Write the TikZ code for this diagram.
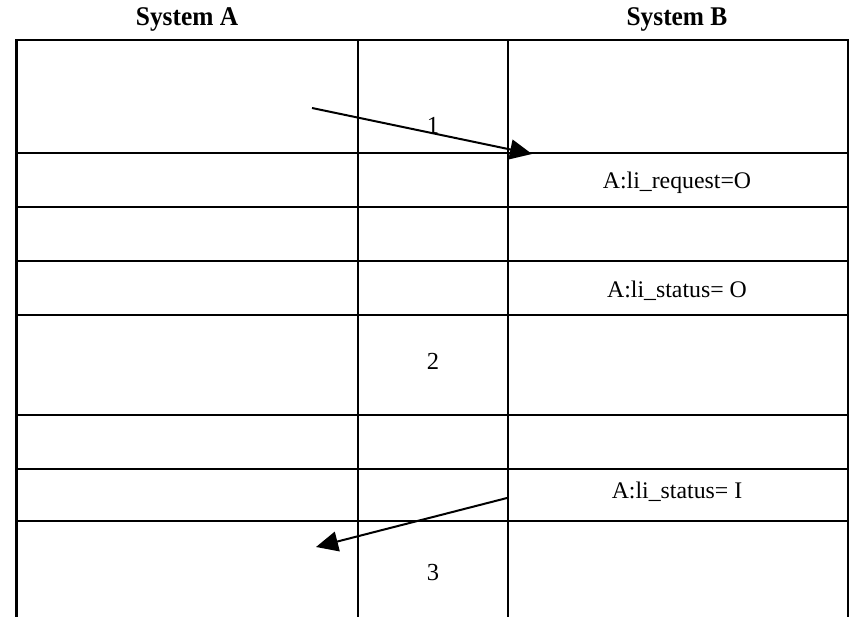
\documentclass[tikz,border=0pt]{standalone}
\usepackage{fontspec}
\setmainfont{Liberation Serif}
\newfontfamily\headfont[FakeStretch=0.94]{Liberation Serif}
\usetikzlibrary{arrows.meta}
\begin{document}
\begin{tikzpicture}[x=1pt,y=-1pt,
  grid/.style={line width=2.2pt},
  msg/.style={line width=2pt,-{Triangle[length=22pt,width=20pt]}},
  head/.style={anchor=base,font=\headfont\fontsize{27}{31}\selectfont\bfseries},
  cell/.style={anchor=base,font=\fontsize{23.8}{28}\selectfont},
  num/.style={anchor=base,font=\fontsize{24.5}{29}\selectfont}]
\useasboundingbox (0,0) rectangle (850,617);
% column headings
\node[head] (ha) at (187,26) {System A};
\node[head] (hb) at (677,26) {System B};
% table frame and column rules
\draw[grid] (16.5,617) -- (16.5,40) -- (848,40) -- (848,617);
\draw[grid] (358,40) -- (358,617);
\draw[grid] (508,40) -- (508,617);
% row rules
\foreach \y in {153,207,261,315,415,469,521}
  \draw[grid] (16.5,\y) -- (848,\y);
% entries in the System B column
\node[cell] (req) at (677,189) {A:li\_request=O};
\node[cell] (sto) at (677,297) {A:li\_status= O};
\node[cell] (sti) at (677,498) {A:li\_status= I};
% step numbers
\node[num] (n1) at (433,134) {1};
\node[num] (n2) at (433,369) {2};
\node[num] (n3) at (433,580) {3};
% message arrows
\coordinate (s1) at (312,108);
\coordinate (e1) at (532,154);
\coordinate (s3) at (507,498);
\coordinate (e3) at (316,547);
\draw[msg] (s1) -- (e1);
\draw[msg] (s3) -- (e3);
\end{tikzpicture}
\end{document}
